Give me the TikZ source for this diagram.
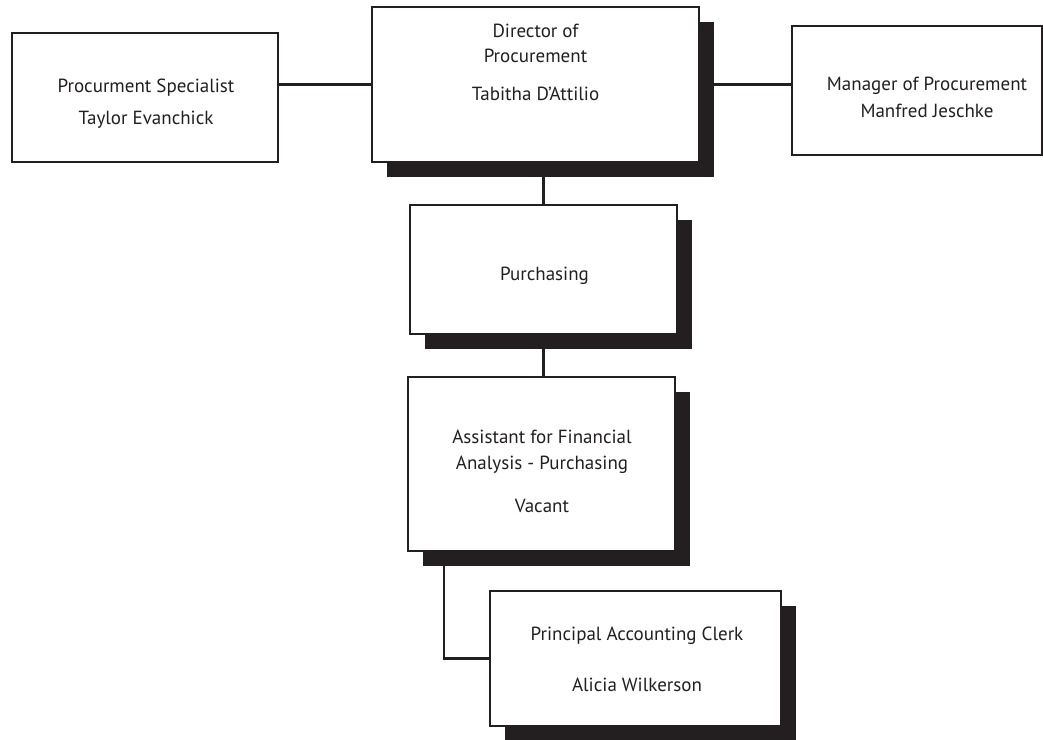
\documentclass[tikz,border=0pt]{standalone}
\usepackage{fontspec}
\setmainfont{PT Sans}
\usetikzlibrary{positioning,shadows,calc}
\definecolor{ink}{HTML}{231F20}

\tikzset{
	box/.style={draw=ink, line width=2.2pt, fill=white, rectangle, inner sep=0pt},
	sbox/.style={box, drop shadow={shadow xshift=15pt, shadow yshift=-15pt, fill=ink, opacity=1}},
	lbl/.style={text=ink, font=\fontsize{19}{21}\selectfont, align=center, inner sep=0pt, anchor=base},
	link/.style={draw=ink, line width=2.2pt}
}

\begin{document}
\begin{tikzpicture}[x=1pt, y=-1pt]
		\useasboundingbox (0,0) rectangle (1043,739);

		% boxes
		\node[box, minimum width=266pt, minimum height=129pt] (spec) at (145,97.5) {};
		\node[sbox, minimum width=327pt, minimum height=155pt] (dir) at (535.5,84.5) {};
		\node[box, minimum width=250pt, minimum height=129pt] (mgr) at (917,90.5) {};
		\node[sbox, minimum width=267pt, minimum height=129pt] (purch) at (543.5,269.5) {};
		\node[sbox, minimum width=267pt, minimum height=174pt] (asst) at (541.5,464) {};
		\node[sbox, minimum width=291pt, minimum height=135pt] (clerk) at (635.5,658.5) {};

		% texts (anchored at the last baseline)
		\node[lbl] (spectxt) at (146,124) {Procurment Specialist\\[11pt]Taylor Evanchick};
		\node[lbl] (dirtxt) at (535.5,100) {Director of\\[4pt]Procurement\\[17pt]Tabitha D’Attilio};
		\node[lbl] (mgrtxt) at (927,117) {Manager of Procurement\\[6pt]Manfred Jeschke};
		\node[lbl] (purchtxt) at (544.5,280) {Purchasing};
		\node[lbl] (assttxt) at (542,512) {Assistant for Financial\\[5pt]Analysis - Purchasing\\[22pt]Vacant};
		\node[lbl] (clerktxt) at (637,691) {Principal Accounting Clerk\\[30pt]Alicia Wilkerson};

		% connectors
		\draw[link] (dir.west) -- (dir.west -| spec.east);
		\draw[link] (dir.east) -- (dir.east -| mgr.west);
		\draw[link] (purch.north) -- (purch.north |- dir.south);
		\draw[link] (purch.south) -- (purch.south |- asst.north);
		\draw[link] (clerk.west) -| ([xshift=37pt]asst.south west);

	\end{tikzpicture}
\end{document}
